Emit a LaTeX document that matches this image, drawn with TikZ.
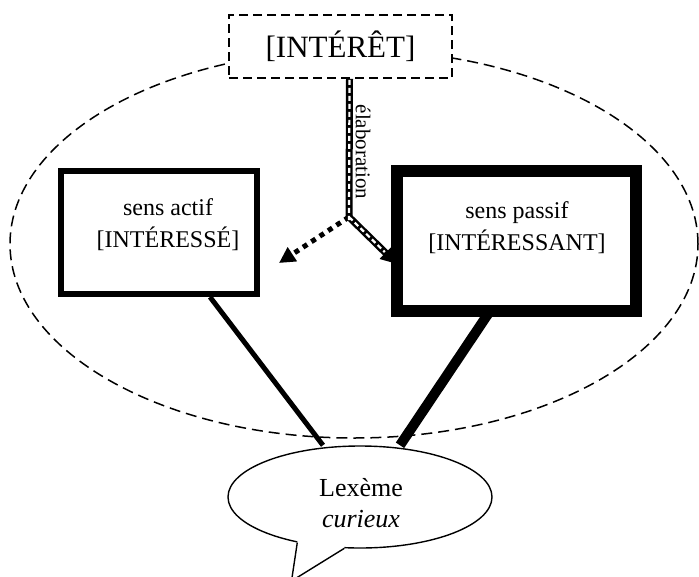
\documentclass[tikz,border=0pt]{standalone}
\usepackage{fontspec}
\setmainfont{Liberation Serif}
\usetikzlibrary{arrows.meta,shapes.geometric,calc}
\begin{document}
\begin{tikzpicture}[x=1pt,y=-1pt,
  bigell/.style={draw,dash pattern=on 11pt off 6pt,line width=1.5pt,ellipse,inner sep=0pt,minimum width=688pt,minimum height=388pt},
  topbox/.style={draw,fill=white,dash pattern=on 9pt off 5pt,line width=1.8pt,minimum width=223pt,minimum height=63pt,inner sep=0pt},
  txtbox/.style={align=center,font=\fontsize{24}{32}\selectfont,inner sep=0pt},
  bubblestyle/.style={draw,fill=white,ellipse,line width=1.4pt,minimum width=264pt,minimum height=102pt,inner sep=0pt}]
\useasboundingbox (0,0) rectangle (699,576);
\clip (0,0) rectangle (699,576);
\node[bigell] (ell) at (354,244) {};
% junction
\coordinate (j) at (349,217);
\coordinate (la) at (279,263);
\coordinate (ra) at (397,264);
% left dotted arrow
\draw[line width=5pt,dash pattern=on 5pt off 5pt,-{Triangle[length=16pt,width=16pt]}] (j) -- (la);
% right double arrow
\draw[line width=7pt,-{Triangle[length=16pt,width=16pt]}] (j) -- (ra);
\draw[white,line width=2.2pt,dash pattern=on 5pt off 3pt,shorten >=17pt] (j) -- (ra);
% boxes
\node[draw,fill=white,line width=6pt,minimum width=196pt,minimum height=123pt,inner sep=0pt] (lbox) at (159,232.5) {};
\node[draw,fill=white,line width=12pt,minimum width=239pt,minimum height=140pt,inner sep=0pt] (rbox) at (516.5,241) {};
\node[txtbox] (ltxt) at (168,225) {sens actif\\{}[INTÉRESSÉ]};
\node[txtbox] (rtxt) at (517,228) {sens passif\\{}[INTÉRESSANT]};
% top box
\node[topbox,font=\fontsize{31}{36}\selectfont] (top) at (340.5,46.5) {[INTÉRÊT]};
% elaboration line
\draw[line width=7pt] ([xshift=9pt]top.south) -- (j);
\draw[white,line width=2.2pt,dash pattern=on 5pt off 3pt] ([xshift=9pt,yshift=-1pt]top.south) -- ([yshift=-3pt]j);
\node[rotate=-90,font=\fontsize{21}{24}\selectfont,inner sep=0pt] (elab) at (363,152) {élaboration};
% bubble
\node[bubblestyle] (bub) at (360,497) {};
\node[align=center,font=\fontsize{26}{31}\selectfont,inner sep=0pt] (btxt) at (361,503) {Lexème\\\textit{curieux}};
\coordinate (tip) at (291.5,581);
\fill[white] (bub.216) -- (tip) -- (bub.253) -- ($(bub.253)+(0,-6)$) -- ($(bub.216)+(0,-6)$) -- cycle;
\draw[line width=1.4pt,line join=miter] (bub.216) -- (tip) -- (bub.253);
% connectors to bubble
\draw[line width=5pt] ([xshift=51pt]lbox.south) -- ([xshift=-37pt]bub.north);
\draw[line width=10pt] ([xshift=-26.5pt,yshift=6pt]rbox.south) -- ([xshift=40pt]bub.north);
\end{tikzpicture}
\end{document}
